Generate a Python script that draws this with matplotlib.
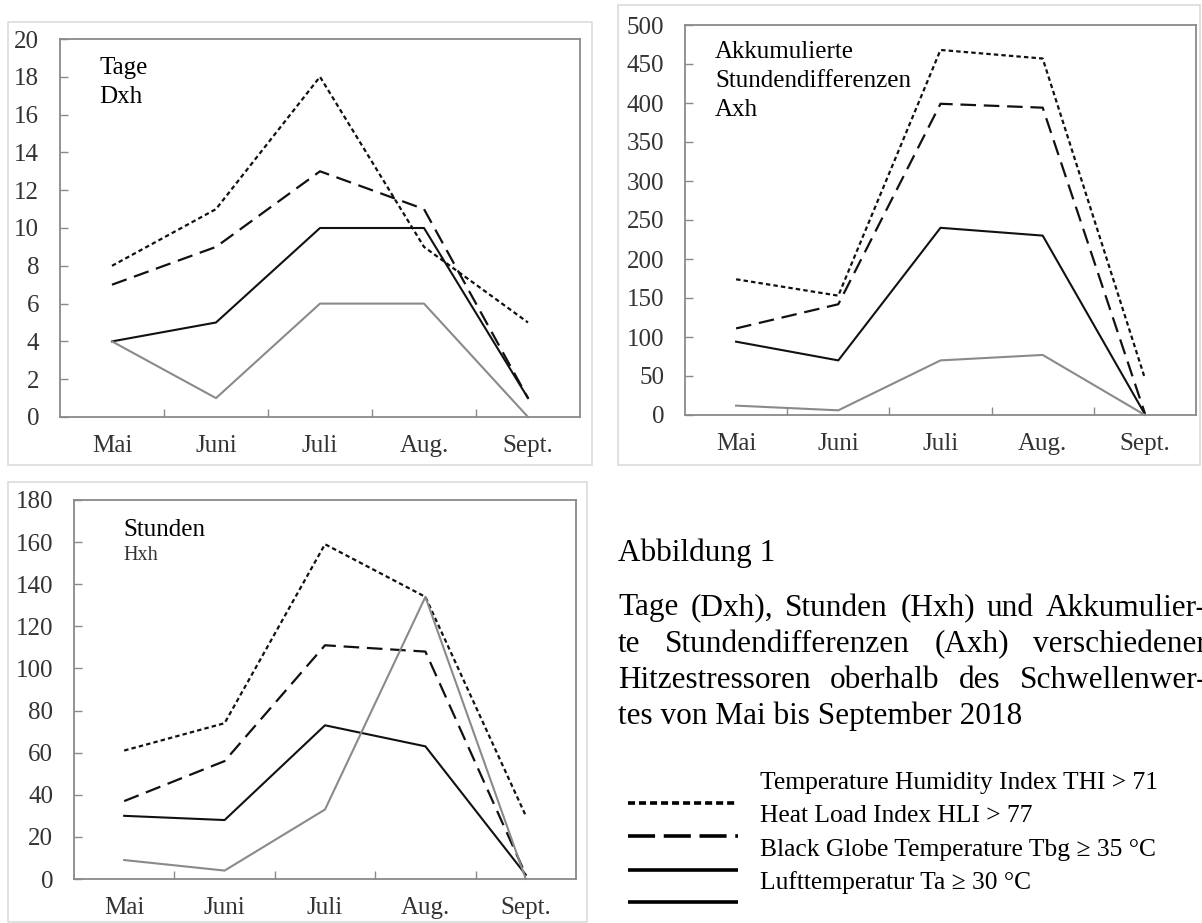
import matplotlib
matplotlib.use("Agg")
import matplotlib.pyplot as plt
from matplotlib.patches import Rectangle
from matplotlib.ticker import FixedLocator

# =====================================================
# Data
# =====================================================

months = ["Mai", "Juni", "Juli", "Aug.", "Sept."]

# Tage Dxh
dxh_thi = [8, 11, 18, 9, 5]
dxh_hli = [7, 9, 13, 11, 1]
dxh_tbg = [4, 5, 10, 10, 1]
dxh_ta = [4, 1, 6, 6, 0]

# Akkumulierte Stundendifferenzen Axh
axh_thi = [174, 153, 468, 457, 47]
axh_hli = [111, 142, 399, 394, 2]
axh_tbg = [94, 70, 240, 230, 1]
axh_ta = [12, 6, 70, 77, 0]

# Stunden Hxh
hxh_thi = [61, 74, 159, 134, 30]
hxh_hli = [37, 56, 111, 108, 2]
hxh_tbg = [30, 28, 73, 63, 2]
hxh_ta = [9, 4, 33, 134, 0]

legend_labels = [
    "Temperature Humidity Index THI > 71",
    "Heat Load Index HLI > 77",
    "Black Globe Temperature Tbg \u2265 35 \u00b0C",
    "Lufttemperatur Ta \u2265 30 \u00b0C",
]

caption_title = "Abbildung 1"
caption_lines = [
    "Tage (Dxh), Stunden (Hxh) und Akkumulier-",
    "te Stundendifferenzen (Axh) verschiedener",
    "Hitzestressoren oberhalb des Schwellenwer-",
    "tes von Mai bis September 2018",
]

# =====================================================
# Figure setup
# =====================================================

W, H = 1202, 923
plt.rcParams["font.family"] = ["Liberation Serif", "DejaVu Serif"]

fig = plt.figure(figsize=(W / 100, H / 100), dpi=100)


def fx(x):
    return x / W


def fy(y):
    return 1 - y / H


def box(l, t, r, b):
    return [fx(l), fy(b), (r - l) / W, (b - t) / H]


# light frames around the panels
for l, t, r, b in [(8, 22, 592, 465), (618, 5, 1200, 465), (8, 482, 587, 922)]:
    fig.patches.append(Rectangle((fx(l), fy(b)), (r - l) / W, (b - t) / H,
                                 transform=fig.transFigure, fill=False,
                                 edgecolor="#dcdcdc", linewidth=1.2))

BLACK = "#111111"
GRAY = "#8a8a8a"
DOTTED = (0, (2, 1.4))
DASHED = (0, (7, 3.5))


def panel(rect, thi, hli, tbg, ta, ymax, ystep):
    ax = fig.add_axes(rect)
    x = range(len(months))
    ax.plot(x, thi, color=BLACK, lw=1.6, linestyle=DOTTED, clip_on=False)
    ax.plot(x, hli, color=BLACK, lw=1.6, linestyle=DASHED, clip_on=False)
    ax.plot(x, tbg, color=BLACK, lw=1.5, clip_on=False)
    ax.plot(x, ta, color=GRAY, lw=1.5, clip_on=False)

    ax.set_xlim(-0.5, len(months) - 0.5)
    ax.set_ylim(0, ymax)
    ax.set_xticks(list(x))
    ax.set_xticklabels(months)
    ax.xaxis.set_minor_locator(FixedLocator([i + 0.5 for i in range(len(months) - 1)]))
    ax.set_yticks(range(0, ymax + 1, ystep))

    ax.tick_params(axis="x", which="major", length=0, pad=13, labelsize=18,
                   labelcolor="#333333")
    ax.tick_params(axis="x", which="minor", direction="in", length=6,
                   color="#8a8a8a", width=1)
    ax.tick_params(axis="y", direction="in", length=6, color="#8a8a8a",
                   width=1, pad=15, labelsize=18, labelcolor="#333333")
    for s in ax.spines.values():
        s.set_color("#8a8a8a")
        s.set_linewidth(1.3)
    return ax


panel(box(60, 39, 580, 417), dxh_thi, dxh_hli, dxh_tbg, dxh_ta, 20, 2)
panel(box(685, 25, 1196, 415), axh_thi, axh_hli, axh_tbg, axh_ta, 500, 50)
panel(box(74, 500, 576, 879), hxh_thi, hxh_hli, hxh_tbg, hxh_ta, 180, 20)

# panel labels
fig.text(fx(99), fy(68), "Tage", fontsize=18, va="center")
fig.text(fx(99), fy(97), "Dxh", fontsize=18, va="center")
fig.text(fx(715), fy(52), "Akkumulierte", fontsize=18, va="center")
fig.text(fx(715), fy(81), "Stundendifferenzen", fontsize=18, va="center")
fig.text(fx(715), fy(110), "Axh", fontsize=18, va="center")
fig.text(fx(123), fy(530), "Stunden", fontsize=18, va="center")
fig.text(fx(123), fy(556), "Hxh", fontsize=14.5, va="center", color="#333333")

# =====================================================
# Caption (justified, runs past the right edge like the original)
# =====================================================

CAP_SIZE = 22.5
fig.text(fx(618), fy(553), caption_title, fontsize=CAP_SIZE, va="center")

renderer = fig.canvas.get_renderer()
cap_y = [608, 644, 680, 716]
for i, (line, y) in enumerate(zip(caption_lines, cap_y)):
    words = line.split()
    if i == len(caption_lines) - 1:
        fig.text(fx(618), fy(y), line, fontsize=CAP_SIZE, va="center")
        continue
    texts = [fig.text(0, fy(y), w, fontsize=CAP_SIZE, va="center") for w in words]
    widths = [t.get_window_extent(renderer).width for t in texts]
    gap = (1207 - 618 - sum(widths)) / (len(words) - 1)
    xpos = 618
    for t, w in zip(texts, widths):
        t.set_x(fx(xpos))
        xpos += w + gap

# =====================================================
# Legend (lines sit between the text rows as in the original)
# =====================================================

leg = fig.add_axes([0, 0, 1, 1], facecolor="none")
leg.set_xlim(0, W)
leg.set_ylim(H, 0)
leg.axis("off")
leg_styles = [(0, (1.95, 1.1)), (0, (7.5, 2.4)), "-", "-"]
line_y = [803, 836, 870, 902]
text_y = [783, 816, 850, 883]
for style, ly, ty, label in zip(leg_styles, line_y, text_y, legend_labels):
    leg.plot([628, 738], [ly, ly], color="black", lw=2.6, linestyle=style,
             solid_capstyle="butt", dash_capstyle="butt")
    leg.text(760, ty, label, fontsize=18.4, va="center")

plt.savefig("out.png", dpi=100)
